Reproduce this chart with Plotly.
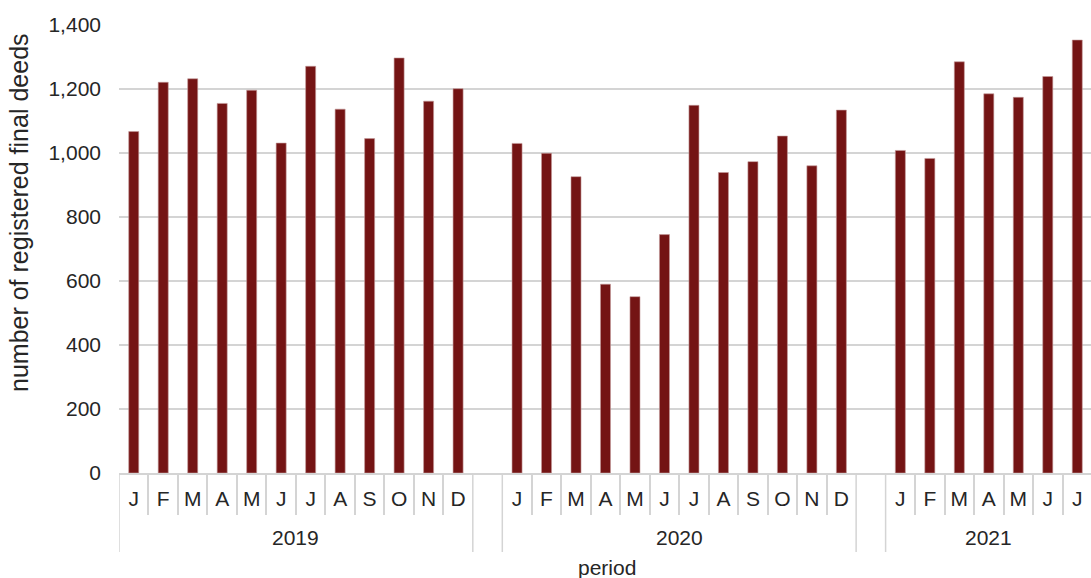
import plotly.graph_objects as go

months = ["J", "F", "M", "A", "M", "J", "J", "A", "S", "O", "N", "D"]
years = ["2019", "2020", "2021"]
deeds_2019 = [1067, 1221, 1232, 1155, 1196, 1031, 1271, 1137, 1045, 1297, 1162, 1201]
deeds_2020 = [1030, 999, 926, 590, 551, 745, 1149, 939, 973, 1053, 960, 1134]
deeds_2021 = [1008, 983, 1285, 1185, 1174, 1239, 1353]

series = [deeds_2019, deeds_2020, deeds_2021]

# slot positions: months of each year, one empty slot between years
xpos, ylab, yvals = [], [], []
year_spans = []          # (first slot, last slot) for each year
slot = 0
for k, vals in enumerate(series):
    start = slot
    for i, v in enumerate(vals):
        xpos.append(slot)
        ylab.append(months[i])
        yvals.append(v)
        slot += 1
    year_spans.append((start, slot - 1))
    if k < len(series) - 1:
        slot += 1        # gap slot
n_slots = slot

grid = "#d4d4d4"
txt = "#262626"
font_family = "Liberation Sans, Arial, sans-serif"

fig = go.Figure(go.Bar(
    x=xpos, y=yvals,
    marker=dict(color="#741414", line=dict(color="#c49a9a", width=0.6)),
    hoverinfo="y",
))

# boundaries between slots (short ticks) and year-group boundaries (long lines)
boundaries = [b - 0.5 for b in range(n_slots + 1)]
long_bounds = set()
for s, e in year_spans:
    long_bounds.add(s - 0.5)
    long_bounds.add(e + 0.5)
short_bounds = [b for b in boundaries if b not in long_bounds]

plot_h = 448
shapes = []
for b in sorted(long_bounds):
    shapes.append(dict(type="line", xref="x", yref="paper", x0=b, x1=b,
                       y0=0, y1=-79 / plot_h, line=dict(color=grid, width=1.5)))

annotations = []
for (s, e), yr in zip(year_spans, years):
    annotations.append(dict(text=yr, xref="x", yref="paper", x=(s + e) / 2,
                            y=-64 / plot_h, showarrow=False, xanchor="center",
                            yanchor="middle", font=dict(size=21, color=txt)))

annotations += [
    dict(text="number of registered final deeds", xref="paper", yref="paper",
         x=(19 - 119) / 973, y=(473 - 213) / plot_h, textangle=-90,
         showarrow=False, xanchor="center", yanchor="middle",
         font=dict(size=25, color=txt)),
    dict(text="period", xref="paper", yref="paper",
         x=(607 - 119) / 973, y=(473 - 567) / plot_h,
         showarrow=False, xanchor="center", yanchor="middle",
         font=dict(size=21, color=txt)),
]

fig.update_layout(
    width=1092, height=578,
    margin=dict(l=119, r=0, t=25, b=105),
    plot_bgcolor="white", paper_bgcolor="white",
    font=dict(family=font_family, size=21, color=txt),
    bargap=0.66,
    showlegend=False,
    xaxis=dict(
        range=[-0.5, n_slots - 0.5],
        tickmode="array", tickvals=xpos, ticktext=ylab,
        ticks="", ticklabelstandoff=6,
        showline=True, linecolor=grid, linewidth=2,
        showgrid=False, zeroline=False,
        minor=dict(tickmode="array", tickvals=short_bounds, ticks="outside",
                   ticklen=40, tickcolor=grid, tickwidth=1.5, showgrid=False),
        tickfont=dict(size=21, color=txt),
    ),
    yaxis=dict(
        range=[0, 1400], dtick=200, tickformat=",",
        showgrid=True, gridcolor=grid, gridwidth=2,
        zeroline=False, showline=False, ticks="",
        ticklabelstandoff=17,
        tickfont=dict(size=21, color=txt),
    ),
    shapes=shapes,
    annotations=annotations,
)

fig.write_html("out.html", config={"displayModeBar": False},
               post_script="document.body.style.margin='0';document.body.style.overflow='hidden';")
